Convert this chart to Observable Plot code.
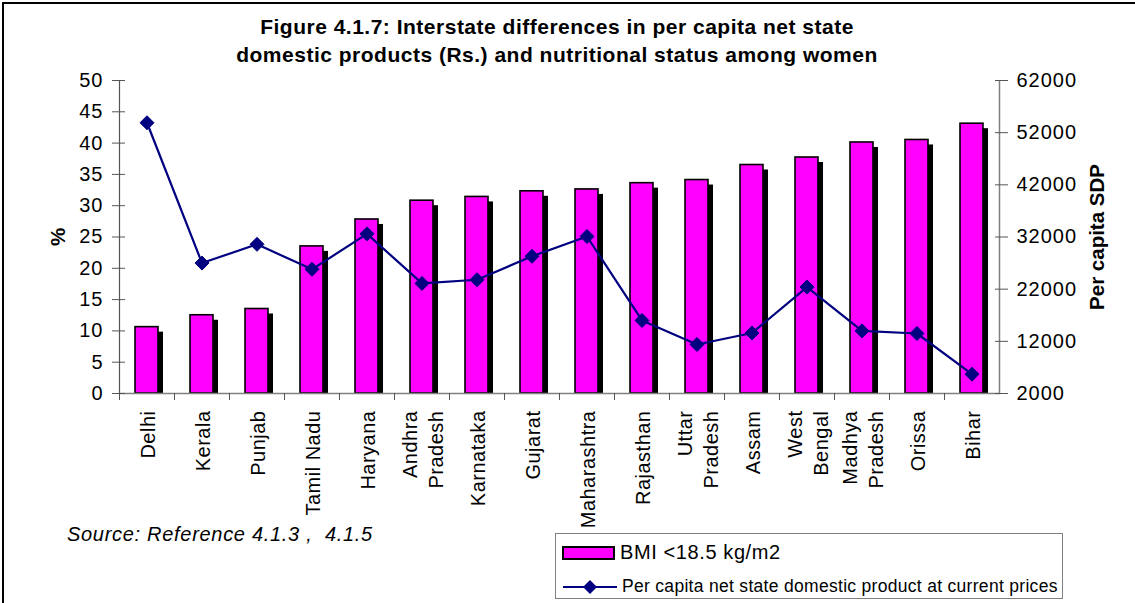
<!DOCTYPE html>
<html>
<head>
<meta charset="utf-8">
<script src="https://cdn.jsdelivr.net/npm/d3@7"></script>
<script src="https://cdn.jsdelivr.net/npm/@observablehq/plot@0.6"></script>
<style>
  html, body { margin: 0; padding: 0; background: #fff; }
  body { font-family: "Liberation Sans", Arial, sans-serif; }
  #wrap { position: relative; width: 1135px; height: 603px; overflow: hidden; background: #fff; }
  #frame { position: absolute; left: 2px; top: 2px; width: 1140px; height: 610px; border-left: 2px solid #000; border-top: 2px solid #000; box-sizing: border-box; }
  #title { position: absolute; left: 0; top: 13px; width: 1114px; text-align: center; font-weight: bold; font-size: 21px; letter-spacing: 0.5px; line-height: 28px; color: #000; }
  #chart { position: absolute; left: 0; top: 0; }
  .ylab { position: absolute; font-weight: bold; font-size: 20.5px; white-space: nowrap; transform: translate(-50%, -50%) rotate(-90deg); }
  #source { position: absolute; left: 67px; top: 523px; font-style: italic; font-size: 20px; letter-spacing: 0.7px; white-space: pre; }
  #legend { position: absolute; left: 555px; top: 533px; width: 508px; height: 66px; border: 1px solid #808080; background: #fff; box-sizing: border-box; }
  .row { position: absolute; left: 6px; display: flex; align-items: center; white-space: nowrap; }
  .sw { width: 49px; height: 10px; background: #FF00FF; border: 2px solid #000; margin-right: 5px; }
</style>
</head>
<body>
<div id="wrap">
  <div id="chart"></div>
  <div id="frame"></div>
  <div id="title"></div>
  <div class="ylab" id="ylabL" style="left:58px; top:237px;"></div>
  <div class="ylab" id="ylabR" style="left:1097px; top:237px;"></div>
  <div id="source"></div>
  <div id="legend"></div>
</div>
<script>
const titleLines = ["Figure 4.1.7: Interstate differences in per capita net state", "domestic products (Rs.) and nutritional status among women"];
const categories = ["Delhi","Kerala","Punjab","Tamil Nadu","Haryana","Andhra Pradesh","Karnataka","Gujarat","Maharashtra","Rajasthan","Uttar Pradesh","Assam","West Bengal","Madhya Pradesh","Orissa","Bihar"];
const tickLabels = ["Delhi","Kerala","Punjab","Tamil Nadu","Haryana","Andhra\nPradesh","Karnataka","Gujarat","Maharashtra","Rajasthan","Uttar\nPradesh","Assam","West\nBengal","Madhya\nPradesh","Orissa","Bihar"];
const bmi = [10.6,12.5,13.5,23.5,27.8,30.8,31.4,32.3,32.6,33.6,34.1,36.5,37.7,40.1,40.5,43.1];
const sdp = [53900,27000,30600,25800,32600,23100,23800,28300,32100,16000,11400,13600,22400,14000,13500,5700];
const leftTicks = [0,5,10,15,20,25,30,35,40,45,50];
const rightTicks = [2000,12000,22000,32000,42000,52000,62000];
const seriesNames = ["BMI <18.5 kg/m2", "Per capita net state domestic product at current prices"];
const leftLabel = "%";
const rightLabel = "Per capita SDP";
const sourceText = "Source: Reference 4.1.3 ,  4.1.5";

const leftDomain = [0, 50];
const rightDomain = [2000, 62000];
const toLeft = v => (v - rightDomain[0]) / (rightDomain[1] - rightDomain[0]) * (leftDomain[1] - leftDomain[0]) + leftDomain[0];
const toRight = v => (v - leftDomain[0]) / (leftDomain[1] - leftDomain[0]) * (rightDomain[1] - rightDomain[0]) + rightDomain[0];

const data = categories.map((c, i) => ({state: c, label: tickLabels[i], bmi: bmi[i], sdp: sdp[i], sdpL: toLeft(sdp[i])}));

const halfStep = 27.5;
const font = "'Liberation Sans', Arial, sans-serif";

const plot = Plot.plot({
  width: 1135,
  height: 603,
  marginTop: 80,
  marginBottom: 210,
  marginLeft: 119,
  marginRight: 135,
  x: {domain: categories, paddingInner: 0.58, paddingOuter: 0.29, axis: null},
  y: {domain: leftDomain, axis: null},
  style: {fontFamily: font, fontSize: "20px", background: "transparent", overflow: "visible", color: "#000"},
  marks: [
    Plot.barY(data, {x: "state", y: "bmi", fill: "#000", dx: 5, insetTop: 5}),
    Plot.barY(data, {x: "state", y: "bmi", fill: "#FF00FF", stroke: "#000", strokeWidth: 1.6}),
    Plot.ruleY([0], {stroke: "#808080", strokeWidth: 1.5}),
    Plot.ruleX([categories[0]], {dx: -halfStep, y1: leftDomain[0], y2: leftDomain[1], stroke: "#555", strokeWidth: 1.2}),
    Plot.ruleX([categories[categories.length - 1]], {dx: halfStep, y1: leftDomain[0], y2: leftDomain[1], stroke: "#808080", strokeWidth: 1.5}),
    Plot.axisX({dx: -halfStep, tickSize: 7, tickFormat: () => "", stroke: "#555", label: null}),
    Plot.axisY(leftTicks, {anchor: "left", tickSize: 7, tickPadding: 9, fontSize: 20, label: null, stroke: "#555"}),
    Plot.axisY(leftTicks, {anchor: "left", tickSize: -6, tickFormat: () => "", label: null, stroke: "#555"}),
    Plot.axisY(rightTicks.map(toLeft), {anchor: "right", tickSize: 7, tickPadding: 9, fontSize: 20, label: null, stroke: "#555", tickFormat: d => String(Math.round(toRight(d)))}),
    Plot.axisY(rightTicks.map(toLeft), {anchor: "right", tickSize: -6, tickFormat: () => "", label: null, stroke: "#555"}),
    Plot.line(data, {x: "state", y: "sdpL", stroke: "#000080", strokeWidth: 2.2}),
    Plot.dot(data, {x: "state", y: "sdpL", symbol: "diamond2", r: 6.3, fill: "#000080", stroke: "#000080", strokeWidth: 1}),
    Plot.text(data, {x: "state", y: 0, text: "label", rotate: -90, textAnchor: "end", dy: 17, lineHeight: 1.3, fontSize: 20, fill: "#000"})
  ]
});
document.getElementById("chart").appendChild(plot);

// slight letter spacing on axis and category labels, to match the reference's wide type
plot.querySelectorAll("text").forEach(t => {
  const isTick = /^\d+$/.test(t.textContent.trim());
  t.style.letterSpacing = isTick ? "1px" : "0.5px";
});

document.getElementById("title").innerHTML = titleLines.join("<br>");
document.getElementById("ylabL").textContent = leftLabel;
document.getElementById("ylabR").textContent = rightLabel;
document.getElementById("source").textContent = sourceText;

const legend = document.getElementById("legend");
const r1 = document.createElement("div");
r1.className = "row"; r1.style.top = "7px";
r1.innerHTML = '<div class="sw"></div><span style="font-size:20px; letter-spacing:0.6px"></span>';
r1.querySelector("span").textContent = seriesNames[0];
legend.appendChild(r1);
const r2 = document.createElement("div");
r2.className = "row"; r2.style.top = "42px";
r2.innerHTML = '<svg width="56" height="16" style="margin-right:4px"><line x1="1" y1="8" x2="55" y2="8" stroke="#000080" stroke-width="2.2"></line><path d="M28,1L35,8L28,15L21,8Z" fill="#000080"></path></svg><span style="font-size:17.5px; letter-spacing:0.3px"></span>';
r2.querySelector("span").textContent = seriesNames[1];
legend.appendChild(r2);
</script>
</body>
</html>
